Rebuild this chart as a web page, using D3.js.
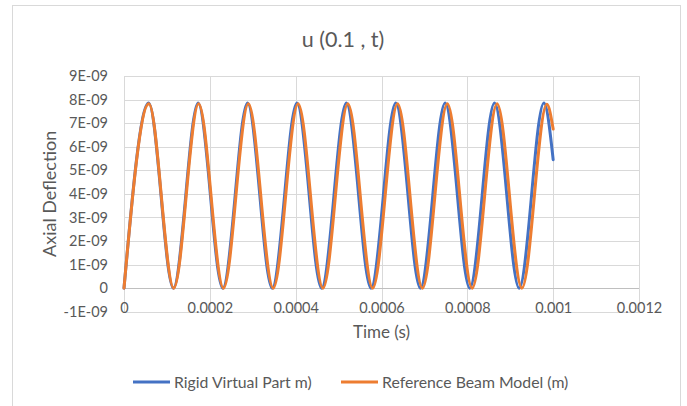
<!DOCTYPE html>
<html>
<head>
<meta charset="utf-8">
<script src="https://cdn.jsdelivr.net/npm/d3@7"></script>
<style>
  html, body { margin: 0; padding: 0; background: #fff; }
  text { font-family: Lato, "Open Sans", sans-serif; fill: #595959; }
</style>
</head>
<body>
<svg id="chart" width="687" height="406"></svg>
<script>
// ===== data =====
const blueTime = [0, 0.0000576, 0.0001151, 0.0001727, 0.0002302, 0.0002878, 0.0003453, 0.0004029, 0.0004604,
  0.000518, 0.0005755, 0.0006331, 0.0006906, 0.0007482, 0.0008057, 0.0008633, 0.0009208, 0.0009784, 0.001];
const blueValue = [0, 7.85e-9, 0, 7.85e-9, 0, 7.85e-9, 0, 7.85e-9, 0,
  7.85e-9, 0, 7.85e-9, 0, 7.85e-9, 0, 7.85e-9, 0, 7.85e-9, 5.45e-9];

const orangeTime = [0, 0.000058, 0.0001159, 0.0001739, 0.0002318, 0.0002898, 0.0003477, 0.0004057, 0.0004636,
  0.0005216, 0.0005795, 0.0006375, 0.0006954, 0.0007534, 0.0008113, 0.0008693, 0.0009272, 0.0009852, 0.001];
const orangeValue = [0, 7.82e-9, 0, 7.82e-9, 0, 7.82e-9, 0, 7.82e-9, 0,
  7.82e-9, 0, 7.82e-9, 0, 7.82e-9, 0, 7.82e-9, 0, 7.8e-9, 6.75e-9];

const seriesNames = ['Rigid Virtual Part m)', 'Reference Beam Model (m)'];
const xTicks = [0, 0.0002, 0.0004, 0.0006, 0.0008, 0.001, 0.0012];
const xTickLabels = ['0', '0.0002', '0.0004', '0.0006', '0.0008', '0.001', '0.0012'];
const yTicks = [-1e-9, 0, 1e-9, 2e-9, 3e-9, 4e-9, 5e-9, 6e-9, 7e-9, 8e-9, 9e-9];
const yTickLabels = ['-1E-09', '0', '1E-09', '2E-09', '3E-09', '4E-09', '5E-09', '6E-09', '7E-09', '8E-09', '9E-09'];

// ===== layout =====
const svg = d3.select('#chart');
const plot = { left: 124, right: 639, top: 76, bottom: 311.7 };
const colors = ['#4472C4', '#ED7D31'];

// chart frame
svg.append('rect')
  .attr('x', 12.5).attr('y', 5.5)
  .attr('width', 668).attr('height', 430)
  .style('fill', '#fff').style('stroke', '#d9d9d9').style('stroke-width', 1);

const x = d3.scaleLinear().domain([0, 0.0012]).range([plot.left, plot.right]);
const y = d3.scaleLinear().domain([-1e-9, 9e-9]).range([plot.bottom, plot.top]);

// gridlines
svg.append('g').selectAll('line').data(yTicks).enter().append('line')
  .attr('x1', plot.left).attr('x2', plot.right)
  .attr('y1', d => Math.round(y(d)) + 0.5).attr('y2', d => Math.round(y(d)) + 0.5)
  .style('stroke', '#d9d9d9').style('stroke-width', 1);

svg.append('g').selectAll('line').data(xTicks).enter().append('line')
  .attr('x1', d => Math.round(x(d)) + 0.5).attr('x2', d => Math.round(x(d)) + 0.5)
  .attr('y1', plot.top).attr('y2', plot.bottom)
  .style('stroke', '#d9d9d9').style('stroke-width', 1);

// horizontal axis line at zero
svg.append('line')
  .attr('x1', plot.left).attr('x2', plot.right)
  .attr('y1', Math.round(y(0)) + 0.5).attr('y2', Math.round(y(0)) + 0.5)
  .style('stroke', '#bfbfbf').style('stroke-width', 1);

// y tick labels
const yAxis = d3.axisLeft(y).tickValues(yTicks).tickSize(0).tickPadding(16)
  .tickFormat((d, i) => yTickLabels[i]);
const gy = svg.append('g').attr('transform', `translate(${plot.left},0)`).call(yAxis);
gy.select('.domain').remove();
gy.selectAll('text').style('font-size', '14.5px').style('fill', '#595959').style('font-family', 'Lato');

// x tick labels (sit just under the zero line)
const xAxis = d3.axisBottom(x).tickValues(xTicks).tickSize(0).tickPadding(15)
  .tickFormat((d, i) => xTickLabels[i]);
const gx = svg.append('g').attr('transform', `translate(0,${y(0)})`).call(xAxis);
gx.select('.domain').remove();
gx.selectAll('text').style('font-size', '14.5px').style('fill', '#595959').style('font-family', 'Lato');

// series lines
const line = d3.line()
  .x(d => x(d[0]))
  .y(d => y(d[1]))
  .curve(d3.curveMonotoneX);

const series = [
  d3.zip(blueTime, blueValue),
  d3.zip(orangeTime, orangeValue)
];

svg.append('g').selectAll('path').data(series).enter().append('path')
  .attr('d', line)
  .style('fill', 'none')
  .style('stroke', (d, i) => colors[i])
  .style('stroke-width', 3)
  .style('stroke-linejoin', 'round')
  .style('stroke-linecap', 'round');

// titles
svg.append('text')
  .attr('x', 343).attr('y', 47)
  .attr('text-anchor', 'middle')
  .style('font-size', '21.5px')
  .text('u (0.1 , t)');

svg.append('text')
  .attr('x', (plot.left + plot.right) / 2).attr('y', 337.5)
  .attr('text-anchor', 'middle')
  .style('font-size', '17px')
  .text('Time (s)');

svg.append('text')
  .attr('transform', `translate(55.5,${(plot.top + plot.bottom) / 2}) rotate(-90)`)
  .attr('text-anchor', 'middle')
  .style('font-size', '18px')
  .text('Axial Deflection');

// legend
const legendX = [133, 341];
const legend = svg.append('g').selectAll('g').data(seriesNames).enter().append('g')
  .attr('transform', (d, i) => `translate(${legendX[i]},382)`);

legend.append('line')
  .attr('x1', 0).attr('x2', 37).attr('y1', 0).attr('y2', 0)
  .style('stroke', (d, i) => colors[i])
  .style('stroke-width', 3);

legend.append('text')
  .attr('x', 41).attr('y', 0).attr('dy', '0.35em')
  .style('font-size', '15.8px')
  .text(d => d);
</script>
</body>
</html>
